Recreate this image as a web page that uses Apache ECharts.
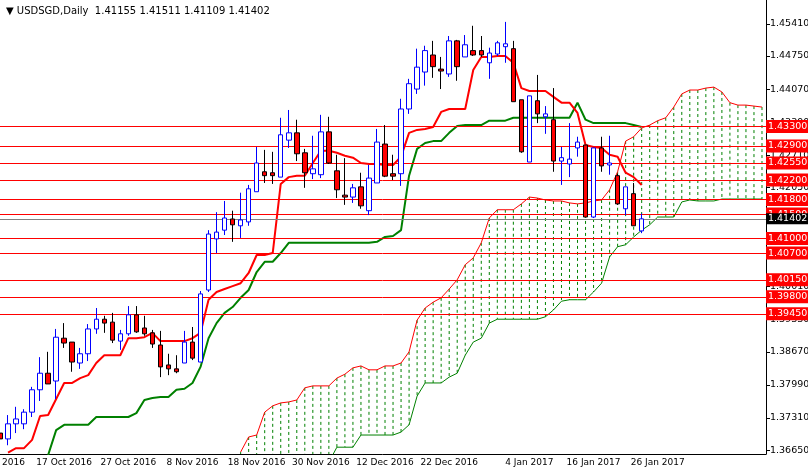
<!DOCTYPE html>
<html>
<head>
<meta charset="utf-8">
<script src="https://cdn.jsdelivr.net/npm/echarts@6/dist/echarts.min.js"></script>
<style>
  html, body { margin: 0; padding: 0; background: #fff; }
  #chart { width: 808px; height: 472px; }
</style>
</head>
<body>
<div id="chart"></div>
<script>
// candles: [open, close, low, high]
const ohlc = [
  [1.3700,1.3688,1.3684,1.3706],[1.3688,1.3719,1.3675,1.3737],[1.3719,1.3729,1.3700,1.3754],[1.3719,1.3743,1.3708,1.3749],
  [1.3743,1.3789,1.3733,1.3795],[1.3789,1.3823,1.3766,1.3856],[1.3823,1.3801,1.3801,1.3867],[1.3807,1.3897,1.3770,1.3914],
  [1.3895,1.3885,1.3875,1.3926],[1.3887,1.3846,1.3826,1.3887],[1.3844,1.3863,1.3832,1.3875],[1.3863,1.3914,1.3848,1.3924],
  [1.3914,1.3934,1.3904,1.3957],[1.3934,1.3926,1.3906,1.3941],[1.3928,1.3891,1.3885,1.3947],[1.3889,1.3904,1.3871,1.3912],
  [1.3904,1.3943,1.3900,1.3961],[1.3943,1.3908,1.3906,1.3961],[1.3916,1.3904,1.3900,1.3941],[1.3906,1.3883,1.3875,1.3912],
  [1.3881,1.3836,1.3815,1.3910],[1.3840,1.3832,1.3819,1.3863],[1.3832,1.3826,1.3823,1.3860],[1.3844,1.3887,1.3844,1.3910],
  [1.3887,1.3854,1.3850,1.3918],[1.3846,1.3986,1.3846,1.3992],[1.3994,1.4109,1.3990,1.4117],[1.4099,1.4113,1.4070,1.4154],
  [1.4117,1.4142,1.4107,1.4177],[1.4140,1.4128,1.4093,1.4157],[1.4126,1.4138,1.4101,1.4194],[1.4134,1.4202,1.4126,1.4210],
  [1.4196,1.4255,1.4196,1.4288],[1.4237,1.4229,1.4214,1.4282],[1.4235,1.4229,1.4212,1.4278],[1.4226,1.4313,1.4226,1.4348],
  [1.4302,1.4317,1.4286,1.4364],[1.4317,1.4274,1.4259,1.4344],[1.4276,1.4235,1.4204,1.4284],[1.4233,1.4243,1.4222,1.4311],
  [1.4231,1.4319,1.4224,1.4354],[1.4319,1.4255,1.4253,1.4350],[1.4239,1.4200,1.4183,1.4272],[1.4189,1.4185,1.4169,1.4265],
  [1.4185,1.4204,1.4173,1.4212],[1.4206,1.4167,1.4161,1.4235],[1.4157,1.4224,1.4148,1.4251],[1.4214,1.4298,1.4214,1.4325],
  [1.4294,1.4228,1.4226,1.4333],[1.4233,1.4228,1.4220,1.4272],[1.4233,1.4366,1.4208,1.4387],[1.4366,1.4418,1.4356,1.4428],
  [1.4407,1.4452,1.4397,1.4490],[1.4442,1.4486,1.4414,1.4496],[1.4477,1.4453,1.4430,1.4506],[1.4448,1.4444,1.4407,1.4473],
  [1.4438,1.4506,1.4432,1.4516],[1.4506,1.4453,1.4424,1.4508],[1.4473,1.4498,1.4473,1.4518],[1.4486,1.4477,1.4475,1.4537],
  [1.4486,1.4477,1.4473,1.4516],[1.4461,1.4481,1.4428,1.4492],[1.4479,1.4502,1.4475,1.4506],[1.4494,1.4500,1.4461,1.4545],
  [1.4490,1.4381,1.4381,1.4506],[1.4385,1.4278,1.4276,1.4385],[1.4257,1.4393,1.4257,1.4393],[1.4383,1.4356,1.4337,1.4436],
  [1.4350,1.4356,1.4315,1.4372],[1.4344,1.4259,1.4237,1.4409],[1.4259,1.4266,1.4210,1.4288],[1.4253,1.4263,1.4226,1.4337],
  [1.4286,1.4298,1.4268,1.4309],[1.4292,1.4144,1.4144,1.4292],[1.4144,1.4286,1.4142,1.4286],[1.4286,1.4249,1.4237,1.4309],
  [1.4251,1.4255,1.4231,1.4311],[1.4229,1.4171,1.4169,1.4233],[1.4161,1.4206,1.4148,1.4206],[1.4192,1.4126,1.4126,1.4214],
  [1.41155,1.41402,1.41109,1.41511]
];

// ichimoku
const tenkan = [
  null,1.3660,1.3669,1.3669,1.3686,1.3735,1.3737,1.3770,1.3803,1.3803,
  1.3813,1.3819,1.3844,1.3860,1.3860,1.3860,1.3895,1.3895,1.3897,1.3906,
  1.3889,1.3889,1.3889,1.3889,1.3895,1.3906,1.3974,1.3990,1.3996,1.4002,
  1.4008,1.4029,1.4066,1.4066,1.4070,1.4212,1.4226,1.4229,1.4229,1.4255,
  1.4280,1.4280,1.4276,1.4270,1.4266,1.4255,1.4253,1.4253,1.4251,1.4251,
  1.4268,1.4317,1.4323,1.4325,1.4329,1.4360,1.4366,1.4366,1.4366,1.4446,
  1.4473,1.4473,1.4475,1.4475,1.4461,1.4409,1.4403,1.4403,1.4403,1.4391,
  1.4379,1.4379,1.4358,1.4292,1.4288,1.4286,1.4272,1.4268,1.4235,1.4226,1.4210
];
const kijun = [
  null,null,null,null,null,null,1.3655,1.3706,1.3717,1.3717,
  1.3717,1.3717,1.3733,1.3733,1.3733,1.3733,1.3733,1.3741,1.3768,1.3772,
  1.3774,1.3774,1.3789,1.3791,1.3803,1.3836,1.3895,1.3926,1.3947,1.3959,
  1.3978,1.3994,1.4031,1.4052,1.4052,1.4070,1.4091,1.4091,1.4091,1.4091,
  1.4091,1.4091,1.4091,1.4091,1.4091,1.4091,1.4091,1.4093,1.4103,1.4105,
  1.4117,1.4229,1.4284,1.4296,1.4300,1.4300,1.4317,1.4331,1.4333,1.4333,
  1.4333,1.4342,1.4342,1.4342,1.4348,1.4348,1.4348,1.4348,1.4348,1.4348,
  1.4348,1.4348,1.4379,1.4344,1.4337,1.4337,1.4337,1.4337,1.4337,1.4333,1.4329
];
const spanA = [
  null,null,null,null,null,null,null,null,null,null,
  null,null,null,null,null,null,null,null,null,null,
  null,null,null,null,null,null,null,null,null,null,
  1.3661,1.3692,1.3696,1.3743,1.3756,1.3762,1.3764,1.3768,1.3793,1.3797,
  1.3797,1.3797,1.3813,1.3821,1.3834,1.3838,1.3830,1.3830,1.3838,1.3838,
  1.3844,1.3867,1.3932,1.3957,1.3969,1.3978,1.3996,1.4015,1.4046,1.4060,
  1.4091,1.4142,1.4159,1.4159,1.4159,1.4171,1.4185,1.4183,1.4179,1.4177,
  1.4177,1.4173,1.4171,1.4173,1.4177,1.4179,1.4200,1.4237,1.4300,1.4309,
  1.4327,1.4333,1.4342,1.4348,1.4370,1.4397,1.4405,1.4405,1.4409,1.4411,
  1.4401,1.4379,1.4374,1.4374,1.4372,1.4370
];
const spanB = [
  null,null,null,null,null,null,null,null,null,null,
  null,null,null,null,null,null,null,null,null,null,
  null,null,null,null,null,null,null,null,null,null,
  1.3640,1.3640,1.3640,1.3640,1.3640,1.3640,1.3640,1.3640,1.3640,1.3640,
  1.3640,1.3640,1.3671,1.3671,1.3671,1.3696,1.3696,1.3696,1.3696,1.3696,
  1.3702,1.3717,1.3776,1.3803,1.3803,1.3803,1.3815,1.3823,1.3860,1.3887,
  1.3895,1.3926,1.3934,1.3934,1.3934,1.3934,1.3934,1.3934,1.3939,1.3953,
  1.3971,1.3974,1.3974,1.3974,1.3990,1.4008,1.4062,1.4083,1.4087,1.4103,
  1.4117,1.4128,1.4144,1.4144,1.4144,1.4175,1.4179,1.4177,1.4177,1.4177,
  1.4181,1.4181,1.4181,1.4181,1.4181,1.4181
];

const levels = [1.4330, 1.4290, 1.4255, 1.4220, 1.4180, 1.4150, 1.4100, 1.4070, 1.4015, 1.3980, 1.3945];
const bid = 1.41402;
const priceTicks = [1.4541, 1.4475, 1.4407, 1.4339, 1.4271, 1.4205, 1.4001, 1.3933, 1.3867, 1.3799, 1.3731, 1.3665];
const tickIdx = [0, 8, 16, 24, 32, 40, 48, 56, 66, 74, 82];
const tickText = ['5 Oct 2016', '17 Oct 2016', '27 Oct 2016', '8 Nov 2016', '18 Nov 2016', '30 Nov 2016',
  '12 Dec 2016', '22 Dec 2016', '4 Jan 2017', '16 Jan 2017', '26 Jan 2017'];

const bars = spanA.map((_, i) => String(i));
const cloud = spanA.map((a, i) => [i, a, spanB[i]]).filter(d => d[1] != null);

const font = 'DejaVu Sans';

let chart = echarts.init(document.getElementById('chart'));
chart.setOption({
  animation: false,
  backgroundColor: '#fff',
  title: {
    text: '\u25BC USDSGD,Daily  1.41155 1.41511 1.41109 1.41402',
    left: 1, top: 1,
    textStyle: { fontSize: 10, fontWeight: 'normal', color: '#000', fontFamily: font }
  },
  grid: { left: -4, right: 42, top: 0, bottom: 18, containLabel: false, outerBoundsMode: 'none' },
  xAxis: {
    type: 'category', data: bars, boundaryGap: true,
    axisLine: { lineStyle: { color: '#000' } },
    axisTick: { interval: (i) => tickIdx.includes(i), alignWithLabel: true, length: 4, lineStyle: { color: '#000' } },
    axisLabel: {
      interval: (i) => tickIdx.includes(i), color: '#000', fontSize: 9, fontFamily: font, margin: 4,
      formatter: (v) => tickText[tickIdx.indexOf(Number(v))] || ''
    },
    splitLine: { show: false }
  },
  yAxis: {
    type: 'value', position: 'right', min: 1.3657, max: 1.4590, scale: true,
    axisLine: { show: true, lineStyle: { color: '#000' } },
    axisTick: { show: true, customValues: priceTicks, length: 4, lineStyle: { color: '#000' } },
    axisLabel: { customValues: priceTicks, color: '#000', fontSize: 9.5, fontFamily: font, margin: 4,
      formatter: (v) => v.toFixed(5) },
    splitLine: { show: false }
  },
  series: [
    {
      type: 'custom', clip: true, z: 1,
      renderItem: (params, api) => {
        const p1 = api.coord([api.value(0), api.value(1)]);
        const p2 = api.coord([api.value(0), api.value(2)]);
        return {
          type: 'line',
          shape: { x1: p1[0], y1: p1[1], x2: p2[0], y2: p2[1] },
          style: { stroke: '#008000', lineWidth: 1, lineDash: [3, 3] }
        };
      },
      data: cloud
    },
    { type: 'line', data: spanA, symbol: 'none', z: 2, lineStyle: { color: '#ff0000', width: 1 } },
    {
      type: 'line', data: spanB, symbol: 'none', z: 3, lineStyle: { color: '#008000', width: 1 },
      markLine: {
        silent: true, symbol: 'none', precision: 5,
        lineStyle: { color: '#ff0000', width: 1, type: 'solid' },
        label: {
          position: 'end', distance: 0, color: '#fff', backgroundColor: '#ff0000',
          fontSize: 9.5, fontFamily: font, padding: [2, 2, 1, 2],
          formatter: (p) => levels[p.dataIndex].toFixed(5)
        },
        data: levels.map(v => ({ yAxis: v }))
      }
    },
    {
      type: 'line', data: kijun, symbol: 'none', z: 4, lineStyle: { color: '#008000', width: 2 },
      markLine: {
        silent: true, symbol: 'none', precision: 5,
        lineStyle: { color: '#808080', width: 1, type: 'solid' },
        label: {
          position: 'end', distance: 0, color: '#fff', backgroundColor: '#000',
          fontSize: 9.5, fontFamily: font, padding: [1, 2, 0, 2], formatter: () => bid.toFixed(5)
        },
        data: [{ yAxis: bid }]
      }
    },
    { type: 'line', data: tenkan, symbol: 'none', z: 4, lineStyle: { color: '#ff0000', width: 2 } },
    {
      type: 'candlestick', data: ohlc, barWidth: 5, z: 5,
      itemStyle: {
        color: '#ffffff', color0: '#ff0000',
        borderColor: '#0000ff', borderColor0: '#000000', borderWidth: 1
      }
    }
  ]
});
window.addEventListener('resize', () => chart.resize());
</script>
</body>
</html>
